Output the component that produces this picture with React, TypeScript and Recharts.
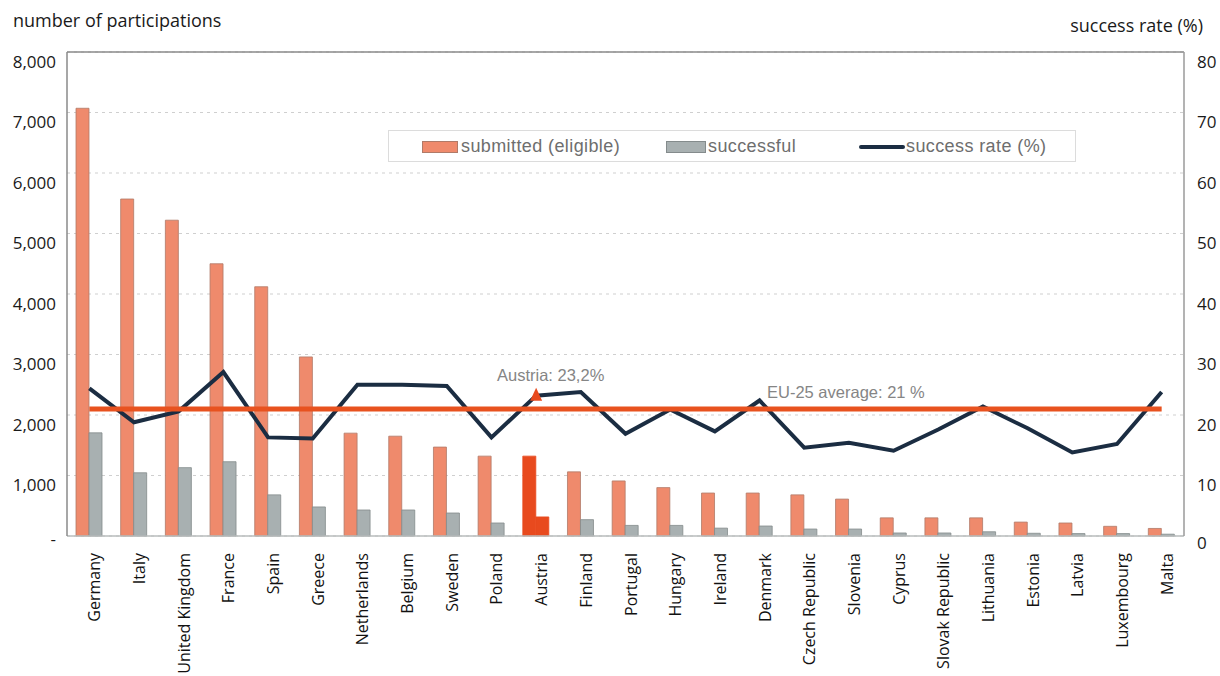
import React from 'react';
import {
  ComposedChart,
  Bar,
  Line,
  XAxis,
  YAxis,
  CartesianGrid,
  ReferenceLine,
  Cell,
} from 'recharts';

const countries = [
  'Germany', 'Italy', 'United Kingdom', 'France', 'Spain', 'Greece', 'Netherlands',
  'Belgium', 'Sweden', 'Poland', 'Austria', 'Finland', 'Portugal', 'Hungary', 'Ireland',
  'Denmark', 'Czech Republic', 'Slovenia', 'Cyprus', 'Slovak Republic', 'Lithuania',
  'Estonia', 'Latvia', 'Luxembourg', 'Malta',
];
const submitted = [
  7070, 5570, 5220, 4500, 4120, 2960, 1700, 1650, 1470, 1320, 1320, 1060, 910, 800, 710,
  710, 680, 610, 300, 300, 300, 230, 215, 160, 125,
];
const successful = [
  1705, 1045, 1130, 1228, 680, 480, 430, 430, 380, 215, 315, 270, 175, 175, 130, 165, 115,
  115, 50, 50, 70, 45, 40, 40, 30,
];
const successRate = [
  24.4, 18.8, 20.6, 27.1, 16.3, 16.1, 25.0, 25.0, 24.8, 16.3, 23.2, 23.8, 16.9, 20.9, 17.3,
  22.4, 14.6, 15.4, 14.1, 17.6, 21.4, 17.8, 13.8, 15.2, 23.8,
];
const euAverage = 21;
const highlight = 'Austria';
const leftTicks = [0, 1000, 2000, 3000, 4000, 5000, 6000, 7000, 8000];
const rightTicks = [0, 10, 20, 30, 40, 50, 60, 70, 80];

const data = countries.map((name, i) => ({
  name,
  submitted: submitted[i],
  successful: successful[i],
  rate: successRate[i],
  avg: euAverage,
}));

const ORANGE = '#ef8a6c';
const ORANGE_STROKE = '#b07a68';
const GRAY = '#a8b0b1';
const GRAY_STROKE = '#848b8c';
const HIGHLIGHT = '#e84a1e';
const NAVY = '#1b2d42';
const AVG = '#e8521f';
const FONT = '"Open Sans", sans-serif';
const ARIAL = '"Liberation Sans", Arial, sans-serif';

const LeftTick = (props: any) => {
  const { y, payload } = props;
  const v = payload.value as number;
  return (
    <text
      x={56}
      y={v === 0 ? y + 2 : y + 9}
      textAnchor="end"
      dominantBaseline="central"
      fontSize={17}
      fontFamily={FONT}
      fill="#1a1a1a"
    >
      {v === 0 ? '-' : v.toLocaleString('en-US')}
    </text>
  );
};

const RightTick = (props: any) => {
  const { y, payload } = props;
  const v = payload.value as number;
  return (
    <text
      x={1197}
      y={v === 0 ? y + 6 : y + 9}
      textAnchor="start"
      dominantBaseline="central"
      fontSize={17}
      fontFamily={FONT}
      fill="#1a1a1a"
    >
      {v}
    </text>
  );
};

const CategoryTick = (props: any) => {
  const { x, payload } = props;
  return (
    <text
      transform={`translate(${x},553) rotate(-90)`}
      textAnchor="end"
      dy={11}
      fontSize={16}
      fontFamily={FONT}
      fill="#111"
    >
      {payload.value}
    </text>
  );
};

const RateDot = (props: any) => {
  const { cx, cy, payload, index } = props;
  if (payload && payload.name === highlight) {
    return (
      <polygon
        key={`dot-${index}`}
        points={`${cx},${cy - 8} ${cx - 6},${cy + 5} ${cx + 6},${cy + 5}`}
        fill={HIGHLIGHT}
      />
    );
  }
  return <g key={`dot-${index}`} />;
};

export default function App() {
  return (
    <div
      style={{
        position: 'absolute',
        left: 0,
        top: 0,
        width: 1220,
        height: 676,
        background: '#fff',
        overflow: 'hidden',
      }}
    >
      <ComposedChart
        width={1220}
        height={676}
        data={data}
        margin={{ top: 52, right: 0, bottom: 0, left: 0 }}
        barGap={0}
      >
        <CartesianGrid
          yAxisId="left"
          vertical={false}
          stroke="#cfcfcf"
          strokeDasharray="3 4"
        />
        <XAxis
          dataKey="name"
          height={140}
          interval={0}
          tick={<CategoryTick />}
          tickLine={false}
          axisLine={{ stroke: '#b9bcbc', strokeWidth: 1.5 }}
        />
        <YAxis
          yAxisId="left"
          width={67}
          domain={[0, 8000]}
          ticks={leftTicks}
          tick={<LeftTick />}
          tickLine={false}
          axisLine={{ stroke: '#8a8a8a', strokeWidth: 1.5 }}
        />
        <YAxis
          yAxisId="right"
          orientation="right"
          width={36}
          domain={[0, 80]}
          ticks={rightTicks}
          tick={<RightTick />}
          tickLine={false}
          axisLine={{ stroke: '#9a9a9a', strokeWidth: 1.5 }}
        />
        <ReferenceLine yAxisId="left" y={8000} stroke="#8a8a8a" strokeWidth={1.5} />
        <Bar
          yAxisId="left"
          dataKey="submitted"
          barSize={13}
          fill={ORANGE}
          stroke={ORANGE_STROKE}
          strokeWidth={0.8}
          isAnimationActive={false}
        >
          {data.map((d) => (
            <Cell
              key={`s-${d.name}`}
              fill={d.name === highlight ? HIGHLIGHT : ORANGE}
              stroke={d.name === highlight ? HIGHLIGHT : ORANGE_STROKE}
            />
          ))}
        </Bar>
        <Bar
          yAxisId="left"
          dataKey="successful"
          barSize={13}
          fill={GRAY}
          stroke={GRAY_STROKE}
          strokeWidth={0.8}
          isAnimationActive={false}
        >
          {data.map((d) => (
            <Cell
              key={`g-${d.name}`}
              fill={d.name === highlight ? HIGHLIGHT : GRAY}
              stroke={d.name === highlight ? HIGHLIGHT : GRAY_STROKE}
            />
          ))}
        </Bar>
        <Line
          yAxisId="right"
          dataKey="rate"
          type="linear"
          stroke={NAVY}
          strokeWidth={4}
          dot={RateDot}
          activeDot={false}
          isAnimationActive={false}
        />
        <Line
          yAxisId="right"
          dataKey="avg"
          type="linear"
          stroke={AVG}
          strokeWidth={5}
          dot={false}
          activeDot={false}
          isAnimationActive={false}
        />
      </ComposedChart>

      <div
        style={{
          position: 'absolute',
          left: 13,
          top: 8,
          fontFamily: FONT,
          fontSize: 18,
          lineHeight: '24px',
          color: '#1a1a1a',
          whiteSpace: 'nowrap',
        }}
      >
        number of participations
      </div>
      <div
        style={{
          position: 'absolute',
          right: 17,
          top: 13,
          fontFamily: FONT,
          fontSize: 18,
          lineHeight: '24px',
          color: '#1a1a1a',
          whiteSpace: 'nowrap',
        }}
      >
        success rate (%)
      </div>

      <div
        style={{
          position: 'absolute',
          left: 388,
          top: 130,
          width: 688,
          height: 32,
          border: '1px solid #dcdcdc',
          background: '#fff',
          boxSizing: 'border-box',
          fontFamily: ARIAL,
          fontSize: 18,
          letterSpacing: 0.4,
          color: '#6e6e6e',
        }}
      >
        <div style={{ position: 'absolute', left: 33, top: 10, width: 36, height: 12, background: ORANGE, border: `1px solid ${ORANGE_STROKE}`, boxSizing: 'border-box' }} />
        <div style={{ position: 'absolute', left: 72, top: 4, lineHeight: '22px', whiteSpace: 'nowrap' }}>submitted (eligible)</div>
        <div style={{ position: 'absolute', left: 277, top: 10, width: 40, height: 12, background: GRAY, border: `1px solid ${GRAY_STROKE}`, boxSizing: 'border-box' }} />
        <div style={{ position: 'absolute', left: 319, top: 4, lineHeight: '22px', whiteSpace: 'nowrap' }}>successful</div>
        <div style={{ position: 'absolute', left: 470, top: 14, width: 46, height: 4, background: NAVY, borderRadius: 2 }} />
        <div style={{ position: 'absolute', left: 517, top: 4, lineHeight: '22px', whiteSpace: 'nowrap' }}>success rate (%)</div>
      </div>

      <div
        style={{
          position: 'absolute',
          left: 497,
          top: 365,
          fontFamily: ARIAL,
          fontSize: 16.5,
          lineHeight: '20px',
          color: '#858585',
          whiteSpace: 'nowrap',
        }}
      >
        Austria: 23,2%
      </div>
      <div
        style={{
          position: 'absolute',
          left: 767,
          top: 382,
          fontFamily: ARIAL,
          fontSize: 16.5,
          lineHeight: '20px',
          color: '#858585',
          whiteSpace: 'nowrap',
        }}
      >
        EU-25 average: 21 %
      </div>
    </div>
  );
}
